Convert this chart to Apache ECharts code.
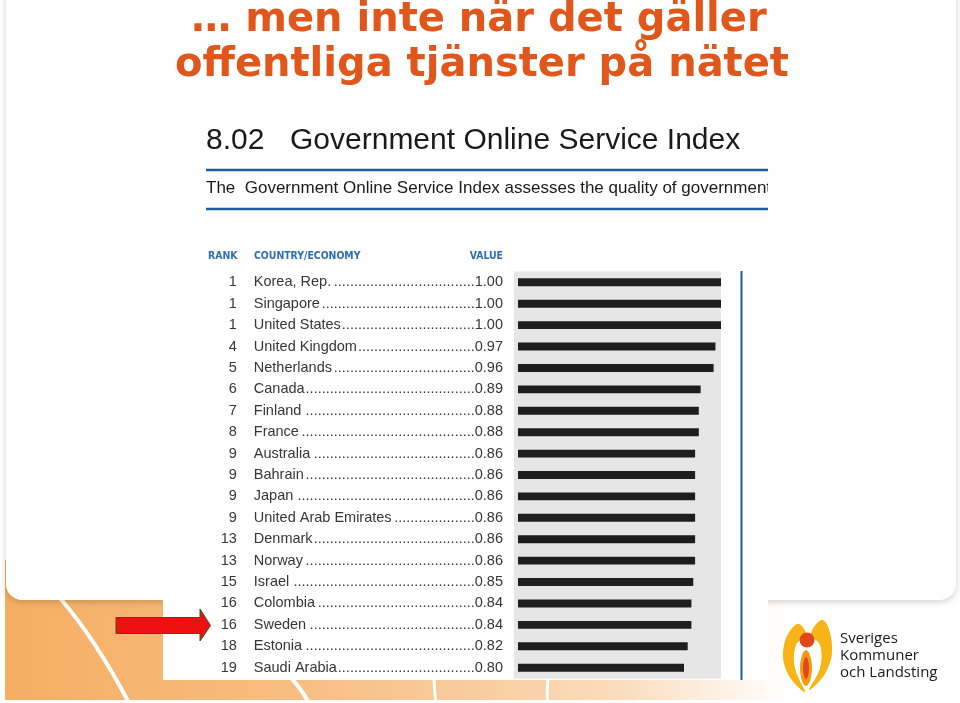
<!DOCTYPE html>
<html>
<head>
<meta charset="utf-8">
<script src="https://cdn.jsdelivr.net/npm/echarts@6/dist/echarts.min.js"></script>
<style>
  html, body { margin: 0; padding: 0; background: #ffffff; }
  #chart { width: 960px; height: 703px; }
</style>
</head>
<body>
<div id="chart"></div>
<script>
// ---- data ----
const ranks = [1, 1, 1, 4, 5, 6, 7, 8, 9, 9, 9, 9, 13, 13, 15, 16, 16, 18, 19];
const countries = ['Korea, Rep.', 'Singapore', 'United States', 'United Kingdom', 'Netherlands',
  'Canada', 'Finland', 'France', 'Australia', 'Bahrain', 'Japan', 'United Arab Emirates',
  'Denmark', 'Norway', 'Israel', 'Colombia', 'Sweden', 'Estonia', 'Saudi Arabia'];
const values = [1.00, 1.00, 1.00, 0.97, 0.96, 0.89, 0.88, 0.88, 0.86, 0.86, 0.86, 0.86,
  0.86, 0.86, 0.85, 0.84, 0.84, 0.82, 0.80];
const headers = ['RANK', 'COUNTRY/ECONOMY', 'VALUE'];
const slideTitle = ['\u2026 men inte n\u00e4r det g\u00e4ller', 'offentliga tj\u00e4nster p\u00e5 n\u00e4tet'];
const figNumber = '8.02';
const figTitle = 'Government Online Service Index';
const figSubtitle = 'The  Government Online Service Index assesses the quality of government online services';
const logoLines = ['Sveriges', 'Kommuner', 'och Landsting'];

// ---- styling constants ----
const X_MIN = -0.119;      // value at the left edge of the grey panel
const BAR_BASE = -0.0973;  // bars start a little inside the panel
const LABEL_FONT = '"Liberation Sans", Arial, sans-serif';
const LABEL_SIZE = 14.5;
const NAME_BOX = 221;
const TXT = '#363636';
const HEAD_FONT = 'bold 10.4px "Liberation Sans Narrow", "DejaVu Sans Condensed", sans-serif';

const cv = document.createElement('canvas').getContext('2d');
cv.font = LABEL_SIZE + 'px ' + LABEL_FONT;
const dotW = cv.measureText('.').width;

function labelFor(name, idx) {
  const nw = cv.measureText(countries[idx]).width;
  const n = Math.max(0, Math.floor((NAME_BOX - nw - 1) / dotW));
  return '{r|' + ranks[idx] + '}{n|' + countries[idx] + '}{d' + idx + '|' + '.'.repeat(n) + '}{v|' + values[idx].toFixed(2) + '}';
}

const rich = {
  r: { width: 30, align: 'right', padding: [0, 17, 0, 0], fontSize: LABEL_SIZE, fontFamily: LABEL_FONT, color: TXT },
  n: { fontSize: LABEL_SIZE, fontFamily: LABEL_FONT, color: TXT },
  v: { fontSize: LABEL_SIZE, fontFamily: LABEL_FONT, color: TXT }
};
countries.forEach(function (c, i) {
  rich['d' + i] = { width: NAME_BOX - cv.measureText(c).width, align: 'right', fontSize: LABEL_SIZE, fontFamily: LABEL_FONT, color: TXT };
});

const chart = echarts.init(document.getElementById('chart'), null, { renderer: 'canvas' });

const orangeGrad = new echarts.graphic.LinearGradient(0, 0, 1, 0, [
  { offset: 0, color: '#F5AE62' },
  { offset: 0.3, color: '#F7BD80' },
  { offset: 0.5, color: '#F9CDA0' },
  { offset: 0.65, color: '#FBDDBE' },
  { offset: 0.76, color: '#FEF3E8' },
  { offset: 0.82, color: '#FFFFFF' },
  { offset: 1, color: '#FFFFFF' }
]);

function swoosh(x1, y1, cx, cy, x2, y2, w) {
  return { type: 'bezierCurve', z: -29, silent: true,
    shape: { x1: x1, y1: y1, cpx1: cx, cpy1: cy, x2: x2, y2: y2 },
    style: { stroke: '#ffffff', lineWidth: w, fill: null } };
}

const option = {
  animation: false,
  backgroundColor: '#ffffff',
  grid: {
    left: 514, top: 271.6, width: 207, height: 406.8,
    show: true, backgroundColor: '#e6e6e6', borderWidth: 0, containLabel: false
  },
  xAxis: {
    type: 'value', min: X_MIN, max: 1.0,
    show: false
  },
  yAxis: {
    type: 'category', data: countries, inverse: true,
    axisLine: { show: false }, axisTick: { show: false }, splitLine: { show: false },
    axisLabel: {
      margin: 11,
      formatter: labelFor,
      rich: rich
    }
  },
  series: [{
    type: 'custom',
    data: values.map(function (v, i) { return [v, i]; }),
    encode: { x: 0, y: 1 },
    renderItem: function (params, api) {
      const end = api.coord([api.value(0), api.value(1)]);
      const start = api.coord([BAR_BASE, api.value(1)]);
      const h = api.size([0, 1])[1] * 0.37;
      return {
        type: 'rect',
        shape: { x: start[0], y: end[1] - h / 2, width: end[0] - start[0], height: h },
        style: { fill: '#1e1e1e' }
      };
    },
    z: 3
  }],
  graphic: [
    // orange band at the bottom of the slide
    { type: 'rect', z: -30, silent: true, shape: { x: 5, y: 560, width: 955, height: 140 }, style: { fill: orangeGrad } },
    // white swooshes on the band
    swoosh(60, 598, 96, 640, 129, 703, 4),
    swoosh(282, 668, 300, 686, 309, 703, 4),
    swoosh(434, 672, 434, 690, 436, 703, 3),
    swoosh(549, 672, 546, 690, 548, 703, 3),
    // white slide panel
    { type: 'rect', z: -25, silent: true, shape: { x: 6, y: -30, width: 950, height: 630, r: 16 },
      style: { fill: '#ffffff', shadowBlur: 6, shadowColor: 'rgba(0,0,0,0.18)', shadowOffsetY: 2 } },
    // pasted report image (white)
    { type: 'rect', z: -20, silent: true, shape: { x: 163, y: 100, width: 605, height: 580 }, style: { fill: '#ffffff' } },
    // slide title
    { type: 'text', z: 10, style: { x: 479, y: 41, text: slideTitle[0], textAlign: 'center', textVerticalAlign: 'bottom',
      font: 'bold 40px "DejaVu Sans", Verdana, sans-serif', fill: '#E0561B' } },
    { type: 'text', z: 10, style: { x: 482, y: 86, text: slideTitle[1], textAlign: 'center', textVerticalAlign: 'bottom',
      font: 'bold 40px "DejaVu Sans", Verdana, sans-serif', fill: '#E0561B' } },
    // figure title
    { type: 'text', z: 10, style: { x: 206, y: 156, text: figNumber, textVerticalAlign: 'bottom',
      font: '30px "Liberation Sans", Arial, sans-serif', fill: '#1a1a1a' } },
    { type: 'text', z: 10, style: { x: 290, y: 156, text: figTitle, textVerticalAlign: 'bottom',
      font: '30px "Liberation Sans", Arial, sans-serif', fill: '#1a1a1a' } },
    { type: 'line', z: 10, shape: { x1: 206, y1: 170, x2: 768, y2: 170 }, style: { stroke: '#1e5b9a', lineWidth: 2.5 } },
    { type: 'text', z: 10, style: { x: 206, y: 188, text: figSubtitle, textVerticalAlign: 'middle',
      font: '17px "Liberation Sans", Arial, sans-serif', fill: '#1a1a1a' } },
    { type: 'rect', z: 11, silent: true, shape: { x: 768, y: 175, width: 185, height: 25 }, style: { fill: '#ffffff' } },
    { type: 'line', z: 10, shape: { x1: 206, y1: 209, x2: 768, y2: 209 }, style: { stroke: '#1e5b9a', lineWidth: 2.5 } },
    // column headers
    { type: 'text', z: 10, style: { x: 208, y: 256.5, text: headers[0], textVerticalAlign: 'middle', font: HEAD_FONT, fill: '#2d6db4' } },
    { type: 'text', z: 10, style: { x: 254, y: 256.5, text: headers[1], textVerticalAlign: 'middle', font: HEAD_FONT, fill: '#2d6db4' } },
    { type: 'text', z: 10, style: { x: 503, y: 256.5, text: headers[2], textAlign: 'right', textVerticalAlign: 'middle', font: HEAD_FONT, fill: '#2d6db4' } },
    // vertical blue rule right of the bars
    { type: 'line', z: 10, shape: { x1: 741.5, y1: 271, x2: 741.5, y2: 680 }, style: { stroke: '#1e5b9a', lineWidth: 2 } },
    // red arrow pointing at Sweden
    { type: 'polygon', z: 12, shape: { points: [[116, 617.5], [200, 617.5], [200, 609], [210.5, 625.5], [200, 641], [200, 633.5], [116, 633.5]] },
      style: { fill: '#EE1111', stroke: '#2f5a1c', lineWidth: 1 } },
    // logo
    { type: 'polygon', z: 12, silent: true, shape: { smooth: 0.4, points: [[797, 624], [784, 645], [787, 672], [805, 692], [795, 668], [796, 645], [806, 634]] }, style: { fill: '#F6B417' } },
    { type: 'polygon', z: 12, silent: true, shape: { smooth: 0.4, points: [[823, 620], [832, 645], [826, 672], [809, 690], [820, 668], [820, 645], [811, 634]] }, style: { fill: '#F6B417' } },
    { type: 'polygon', z: 13, silent: true, shape: { smooth: 0.5, points: [[806, 650], [800, 668], [806, 686], [812, 668]] }, style: { fill: '#F39A12' } },
    { type: 'polygon', z: 14, silent: true, shape: { smooth: 0.5, points: [[806, 657], [803, 668], [806, 679], [809, 668]] }, style: { fill: '#E0481B' } },
    { type: 'circle', z: 14, silent: true, shape: { cx: 807, cy: 640, r: 7.5 }, style: { fill: '#E0481B' } },
    { type: 'text', z: 12, style: { x: 840, y: 646, text: logoLines[0], textVerticalAlign: 'bottom',
      font: '500 15px "Open Sans", sans-serif', fill: '#1a1a1a' } },
    { type: 'text', z: 12, style: { x: 840, y: 663, text: logoLines[1], textVerticalAlign: 'bottom',
      font: '500 15px "Open Sans", sans-serif', fill: '#1a1a1a' } },
    { type: 'text', z: 12, style: { x: 840, y: 680, text: logoLines[2], textVerticalAlign: 'bottom',
      font: '500 15px "Open Sans", sans-serif', fill: '#1a1a1a' } }
  ]
};

chart.setOption(option);
</script>
</body>
</html>
